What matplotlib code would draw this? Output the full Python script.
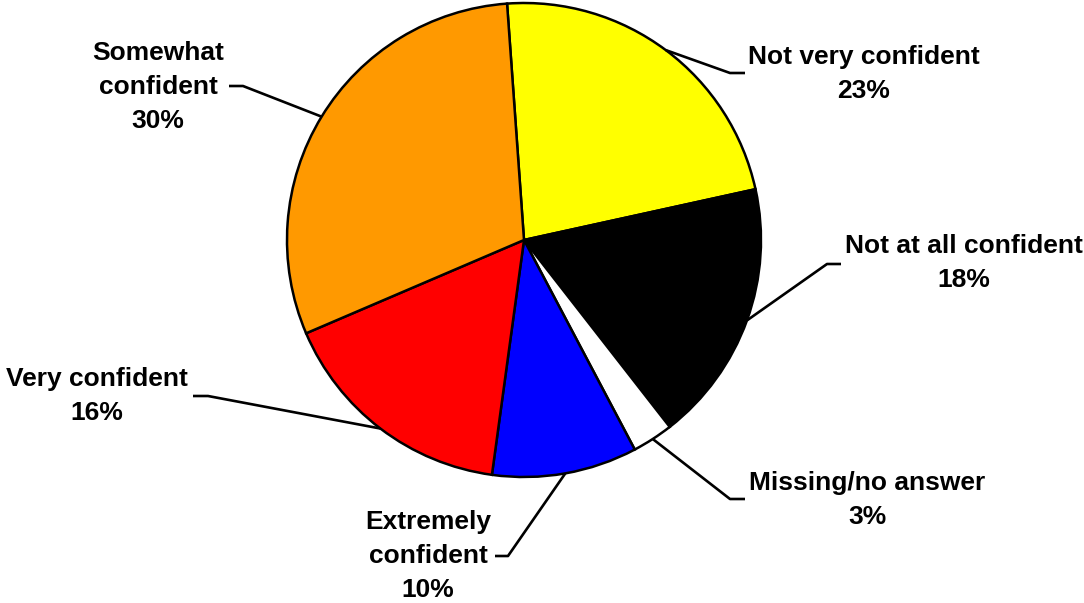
import numpy as np
import matplotlib
matplotlib.use("Agg")
import matplotlib.pyplot as plt

categories = ["Not very confident", "Not at all confident", "Missing/no answer",
              "Extremely\nconfident", "Very confident", "Somewhat\nconfident"]
shares = [22.7, 17.9, 2.8, 9.9, 16.4, 30.3]
colors = ["#FFFF00", "#000000", "#FFFFFF", "#0000FF", "#FF0000", "#FF9900"]

# layout (pixel coordinates, y measured from top)
W, H = 1084, 603
cx, cy, R = 524, 240, 237
# text centre, elbow point, horizontal stub end
label_layout = [
    ((864, 74), (730, 73), (745, 73)),
    ((964, 263), (827, 264), (841, 264)),
    ((867, 500), (730, 499), (745, 499)),
    ((428, 556), (508, 556), (495, 556)),
    ((97, 396), (208, 396), (193, 396)),
    ((158, 87), (243, 86), (229, 86)),
]

fig = plt.figure(figsize=(W / 100, H / 100), dpi=100)
ax = fig.add_axes([0, 0, 1, 1])
wedges, _ = ax.pie(shares, colors=colors, startangle=94.1, counterclock=False,
                   center=(cx, H - cy), radius=R,
                   wedgeprops=dict(edgecolor="black", linewidth=1.8))
ax.set_xlim(0, W)
ax.set_ylim(0, H)
ax.set_aspect("equal")
ax.axis("off")

for w, cat, v, (tpos, elbow, stub) in zip(wedges, categories, shares, label_layout):
    mid = np.deg2rad((w.theta1 + w.theta2) / 2)
    ax_pt = (cx + R * np.cos(mid), H - cy + R * np.sin(mid))
    xs = [ax_pt[0], elbow[0], stub[0]]
    ys = [ax_pt[1], H - elbow[1], H - stub[1]]
    ax.plot(xs, ys, color="black", lw=1.9, solid_capstyle="butt", zorder=3)
    ax.text(tpos[0], H - tpos[1], f"{cat}\n{round(v)}%", ha="center", va="center",
            ma="center", fontsize=19, fontweight="bold", family="Liberation Sans",
            linespacing=1.55)

fig.savefig("out.png", dpi=100)
